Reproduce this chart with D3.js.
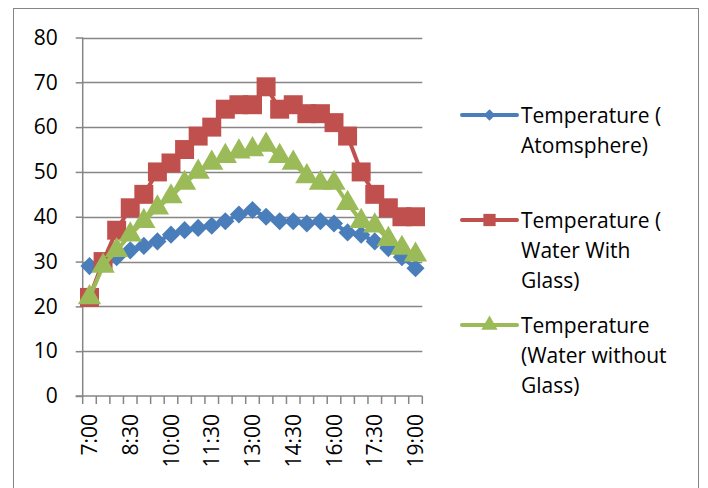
<!DOCTYPE html>
<html><head><meta charset="utf-8">
<script src="https://cdn.jsdelivr.net/npm/d3@7"></script>
<style>
html,body{margin:0;padding:0;background:#fff;}
svg{display:block;}
text{font-family:"Open Sans","Liberation Sans",Arial,sans-serif;fill:#000;}
</style></head>
<body>
<svg id="chart" width="708" height="488"></svg>
<script>
const categories = ["7:00","7:30","8:00","8:30","9:00","9:30","10:00","10:30","11:00","11:30","12:00","12:30","13:00","13:30","14:00","14:30","15:00","15:30","16:00","16:30","17:00","17:30","18:00","18:30","19:00"];
const atmosphere = [29,30,31,32.5,33.5,34.5,36,37,37.5,38,39,40.5,41.5,40,39,39,38.5,39,38.5,36.5,36,34.5,33,31,28.5];
const waterWithGlass = [22,30,37,42,45,50,52,55,58,60,64,65,65,69,64,65,63,63,61,58,50,45,42,40,40];
const waterWithoutGlass = [22,29,32.5,36,39,42,44.5,47.5,50,52,53.5,54.5,55,56,53.5,52,49,47.5,47.5,43,39,38,35,33,31.5];
const yTicks = [0,10,20,30,40,50,60,70,80];
const xLabels = ["7:00","8:30","10:00","11:30","13:00","14:30","16:00","17:30","19:00"];
const seriesNames = [["Temperature (","Atomsphere)"],["Temperature (","Water With","Glass)"],["Temperature","(Water without","Glass)"]];

const svg = d3.select("#chart");
const gray = "#868686";
const colors = ["#4A7EBB","#C0504D","#9BBB59"];
const shapes = [d3.symbolSquare, d3.symbolSquare, d3.symbolTriangle];
const rotations = [45, 0, 0];
const plotSizes = [165, 360, 235];
const legendSizes = [65, 150, 115];
const seriesData = [atmosphere, waterWithGlass, waterWithoutGlass];

// chart border
svg.append("rect").attr("x",13.5).attr("y",8.5).attr("width",685).attr("height",490)
  .attr("fill","none").attr("stroke",gray).attr("stroke-width",1);

const x = d3.scaleBand().domain(categories).range([82.7,422.3]).padding(0);
const y = d3.scaleLinear().domain([0,80]).range([396,37.5]);

// gridlines
svg.append("g").selectAll("line").data(yTicks.filter(d=>d>0)).join("line")
  .attr("x1",x.range()[0]).attr("x2",x.range()[1])
  .attr("y1",d=>Math.round(y(d))+0.5).attr("y2",d=>Math.round(y(d))+0.5)
  .attr("stroke",gray).attr("stroke-width",1.5);

// y axis
const yAxis = d3.axisLeft(y).tickValues(yTicks).tickSize(7).tickPadding(18);
const gy = svg.append("g").attr("transform",`translate(${x.range()[0]},0)`).call(yAxis);
gy.select(".domain").attr("stroke",gray).attr("stroke-width",1.5).attr("d",`M0,${y(80)}V${y(0)}`);
gy.selectAll(".tick line").attr("stroke",gray).attr("stroke-width",1.5);
gy.selectAll(".tick text").style("font-size","21px").attr("font-family",null).attr("fill","#000");

// x axis line
svg.append("line").attr("x1",x.range()[0]-7).attr("x2",x.range()[1])
  .attr("y1",y(0)).attr("y2",y(0)).attr("stroke",gray).attr("stroke-width",1.5);
// tick marks at band boundaries
const bounds = categories.map(c=>x(c)).concat([x.range()[1]]);
svg.append("g").selectAll("line").data(bounds).join("line")
  .attr("x1",d=>d).attr("x2",d=>d).attr("y1",y(0)).attr("y2",y(0)+8)
  .attr("stroke",gray).attr("stroke-width",1.5);
// x labels
svg.append("g").selectAll("text").data(xLabels).join("text")
  .attr("transform",d=>`translate(${x(d)+x.bandwidth()/2},414) rotate(-90)`)
  .attr("text-anchor","end").attr("dy","0.36em").style("font-size","21px").text(d=>d);

// series
const line = d3.line().x((d,i)=>x(categories[i])+x.bandwidth()/2).y(d=>y(d));
seriesData.forEach((data,k)=>{
  const g = svg.append("g");
  g.append("path").datum(data).attr("d",line).attr("fill","none")
    .attr("stroke",colors[k]).attr("stroke-width",4).attr("stroke-linejoin","round");
  g.selectAll("path.m").data(data).join("path").attr("class","m")
    .attr("d",d3.symbol().type(shapes[k]).size(plotSizes[k]))
    .attr("transform",(d,i)=>`translate(${x(categories[i])+x.bandwidth()/2},${y(d)}) rotate(${rotations[k]})`)
    .attr("fill",colors[k]);
});

// legend
const legendY = [115,220,325];
seriesNames.forEach((lines,k)=>{
  const g = svg.append("g");
  g.append("line").attr("x1",462).attr("x2",517).attr("y1",legendY[k]).attr("y2",legendY[k])
    .attr("stroke",colors[k]).attr("stroke-width",4).attr("stroke-linecap","round");
  g.append("path").attr("d",d3.symbol().type(shapes[k]).size(legendSizes[k]))
    .attr("transform",`translate(489.5,${legendY[k]}) rotate(${rotations[k]})`).attr("fill",colors[k]);
  lines.forEach((t,j)=>{
    g.append("text").attr("x",521).attr("y",legendY[k]+j*30).attr("dy","0.36em")
      .style("font-size","21px").text(t);
  });
});
</script>
</body></html>
